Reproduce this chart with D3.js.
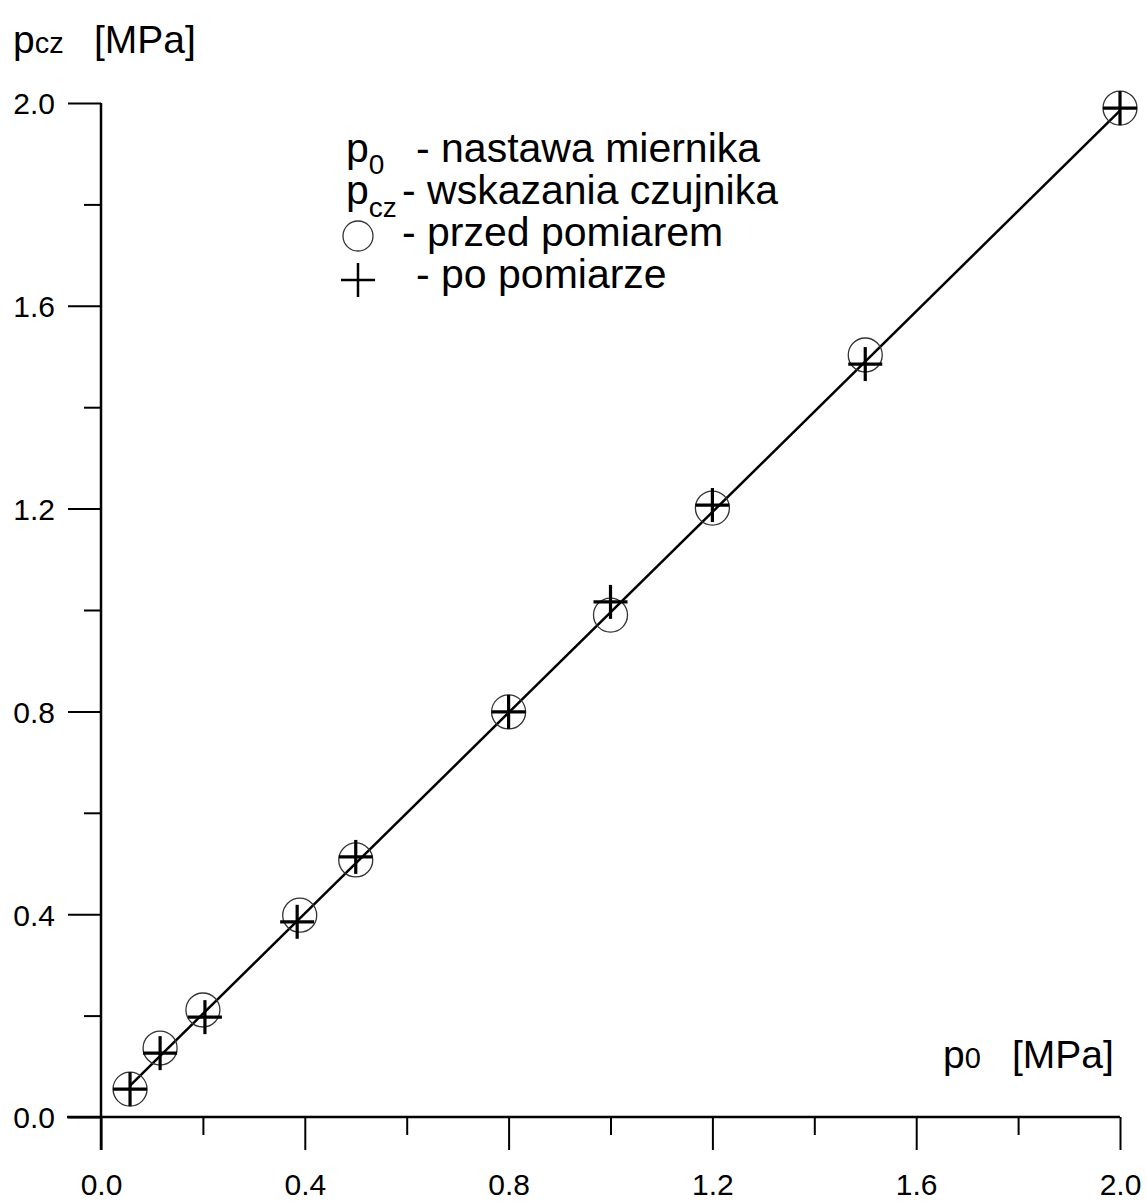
<!DOCTYPE html>
<html><head><meta charset="utf-8">
<script src="https://cdn.jsdelivr.net/npm/d3@7"></script>
<style>body{margin:0;background:#fff}svg{display:block}text{font-family:"Liberation Sans",Arial,sans-serif;fill:#000}</style>
</head><body>
<script>
// data
const p0Before = [0.057, 0.116, 0.20, 0.39, 0.50, 0.80, 1.00, 1.20, 1.50, 2.00];
const pczBefore = [0.055, 0.136, 0.211, 0.398, 0.507, 0.799, 0.990, 1.201, 1.503, 1.990];
const p0After = [0.057, 0.116, 0.204, 0.385, 0.50, 0.80, 1.00, 1.20, 1.50, 2.00];
const pczAfter = [0.055, 0.126, 0.197, 0.385, 0.513, 0.799, 1.016, 1.207, 1.485, 1.990];
const fitX = [0.057, 2.00];
const fitY = [0.062, 1.985];
const majorTicks = [0.0, 0.4, 0.8, 1.2, 1.6, 2.0];
const minorTicks = [0.2, 0.6, 1.0, 1.4, 1.8];
const legendItems = ["- nastawa miernika", "- wskazania czujnika", "- przed pomiarem", "- po pomiarze"];

const W = 1147, H = 1203;
const svg = d3.select("body").append("svg").attr("width", W).attr("height", H);
const x = d3.scaleLinear().domain([0, 2]).range([101, 1120]);
const y = d3.scaleLinear().domain([0, 2]).range([1117, 103]);
const fmt = d3.format(".1f");
const FF = "Liberation Sans, Arial, sans-serif";

// x axis
const gx = svg.append("g").attr("transform", `translate(0,${y(0)})`);
gx.call(d3.axisBottom(x).tickValues(majorTicks).tickSize(33).tickFormat(fmt).tickSizeOuter(0));
const gx2 = svg.append("g").attr("transform", `translate(0,${y(0)})`);
gx2.call(d3.axisBottom(x).tickValues(minorTicks).tickSize(18).tickFormat(() => "").tickSizeOuter(0));
[gx, gx2].forEach(g => { g.selectAll(".domain").remove(); g.selectAll("line").attr("stroke", "#000").attr("stroke-width", 2); });
gx.selectAll("text").attr("font-size", 30).attr("font-family", FF).attr("fill", "#000")
  .attr("y", 78).attr("dy", 0);
svg.append("line").attr("x1", 67).attr("x2", x(2)).attr("y1", y(0)).attr("y2", y(0)).attr("stroke", "#000").attr("stroke-width", 2.5);

// y axis
const gy = svg.append("g").attr("transform", `translate(${x(0)},0)`);
gy.call(d3.axisLeft(y).tickValues(majorTicks).tickSize(33).tickFormat(fmt).tickSizeOuter(0));
const gy2 = svg.append("g").attr("transform", `translate(${x(0)},0)`);
gy2.call(d3.axisLeft(y).tickValues(minorTicks).tickSize(17).tickFormat(() => "").tickSizeOuter(0));
[gy, gy2].forEach(g => { g.selectAll(".domain").remove(); g.selectAll("line").attr("stroke", "#000").attr("stroke-width", 2); });
gy.selectAll("text").attr("font-size", 30).attr("font-family", FF).attr("fill", "#000")
  .attr("x", -46).attr("dy", "0.36em");
svg.append("line").attr("x1", x(0)).attr("x2", x(0)).attr("y1", y(2)).attr("y2", 1150).attr("stroke", "#000").attr("stroke-width", 2.5);

// fit line
svg.append("path").datum(fitX.map((v, i) => [v, fitY[i]]))
  .attr("d", d3.line().x(d => x(d[0])).y(d => y(d[1])))
  .attr("fill", "none").attr("stroke", "#000").attr("stroke-width", 2.5);

// circles
svg.append("g").selectAll("circle").data(p0Before.map((v, i) => [v, pczBefore[i]])).join("circle")
  .attr("cx", d => x(d[0])).attr("cy", d => y(d[1])).attr("r", 17)
  .attr("fill", "none").attr("stroke", "#333").attr("stroke-width", 1.3);

// plus
const plus = (g, cx, cy, a) => {
  g.append("line").attr("x1", cx - a).attr("x2", cx + a).attr("y1", cy).attr("y2", cy);
  g.append("line").attr("x1", cx).attr("x2", cx).attr("y1", cy - a).attr("y2", cy + a);
};
const gp = svg.append("g").attr("stroke", "#000").attr("stroke-width", 3.2);
p0After.forEach((v, i) => plus(gp, x(v), y(pczAfter[i]), 17));

// axis titles
const t1 = svg.append("text").attr("x", 13).attr("y", 53).attr("font-size", 39);
t1.append("tspan").text("p");
t1.append("tspan").attr("font-size", 29).text("cz");
t1.append("tspan").attr("x", 94).text("[MPa]");

const t2 = svg.append("text").attr("x", 943).attr("y", 1068).attr("font-size", 39);
t2.append("tspan").text("p");
t2.append("tspan").attr("font-size", 29).text("0");
t2.append("tspan").attr("x", 1012).text("[MPa]");

// legend
const lg = svg.append("g");
const base = [162, 204, 246, 288];
const dashX = [416, 402, 402, 416];
legendItems.forEach((s, i) => {
  lg.append("text").attr("x", dashX[i]).attr("y", base[i]).attr("font-size", 41).text(s);
});
const l1 = lg.append("text").attr("x", 346).attr("y", base[0]).attr("font-size", 41);
l1.append("tspan").text("p");
l1.append("tspan").attr("font-size", 28).attr("dy", 12).text("0");
const l2 = lg.append("text").attr("x", 346).attr("y", base[1]).attr("font-size", 41);
l2.append("tspan").text("p");
l2.append("tspan").attr("font-size", 28).attr("dy", 13).text("cz");
lg.append("circle").attr("cx", 358).attr("cy", 236).attr("r", 15).attr("fill", "none").attr("stroke", "#333").attr("stroke-width", 1.3);
const gl = lg.append("g").attr("stroke", "#000").attr("stroke-width", 2.5);
plus(gl, 358, 280, 17);
</script>
</body></html>
